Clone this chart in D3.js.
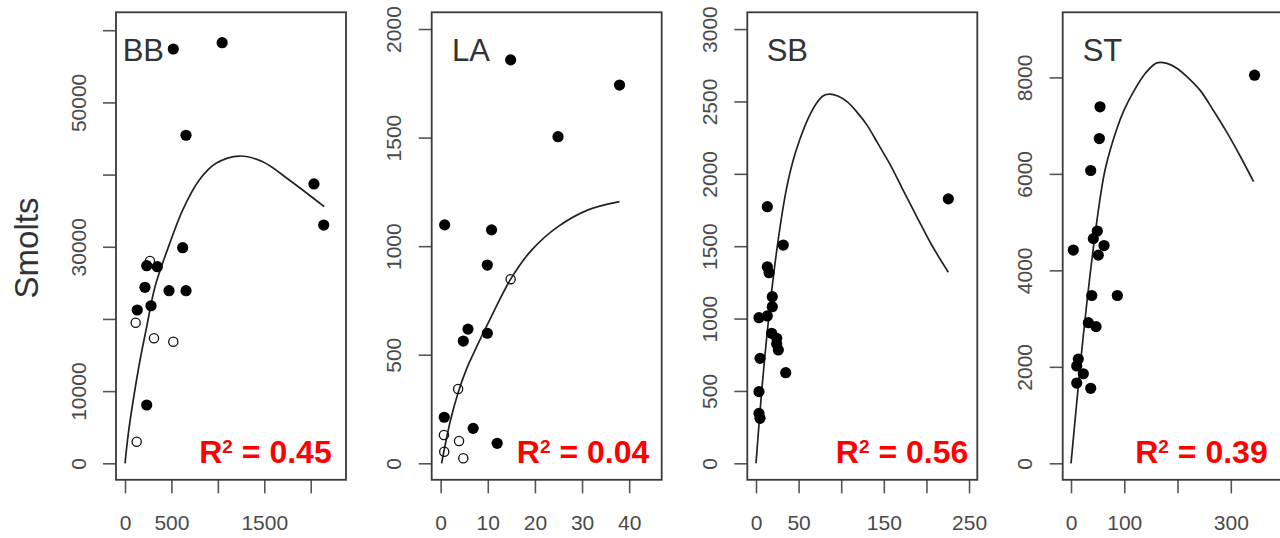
<!DOCTYPE html>
<html>
<head>
<meta charset="utf-8">
<script src="https://cdn.jsdelivr.net/npm/d3@7"></script>
<style>
  body { margin: 0; background: #fff; }
  svg { display: block; }
</style>
</head>
<body>
<svg id="chart" width="1280" height="538"></svg>
<script>
// ---- data ----
const panelNames = ['BB', 'LA', 'SB', 'ST'];
const rSquared = ['0.45', '0.04', '0.56', '0.39'];

// [spawners, smolts]
const bbFilled = [[520, 57400], [1046, 58270], [657, 45450], [2035, 38700], [2140, 33010], [621, 29870],
  [234, 27375], [348, 27240], [215, 24380], [474, 23910], [657, 23910], [280, 21830], [132, 21240], [234, 8080]];
const bbOpen = [[269, 28030], [115, 19480], [312, 17320], [520, 16850], [126, 2990]];
const bbCurve = [[0, 0], [36, 4160], [89, 8770], [162, 14310], [234, 18930], [323, 24470], [495, 30940],
  [621, 35090], [800, 39250], [980, 41560], [1231, 42570], [1483, 41780], [1769, 39250], [2146, 35550]];

const laFilled = [[14.85, 1858], [37.95, 1742], [24.9, 1504], [0.85, 1098], [10.8, 1075], [9.9, 913],
  [5.8, 618], [4.8, 563], [9.9, 599], [0.76, 212], [6.9, 161], [12.0, 92]];
const laOpen = [[14.85, 848], [3.7, 342], [0.7, 130], [3.9, 103], [0.76, 53], [4.8, 23]];
const laCurve = [[0.2, 0], [2, 190], [3.7, 325], [5.5, 435], [7.6, 535], [10.85, 680], [14.85, 848],
  [19.3, 982], [24.9, 1090], [31.3, 1167], [37.95, 1205]];

const sbFilled = [[13.3, 1773], [225.7, 1827], [32.0, 1508], [13.3, 1358], [15.3, 1317], [19.1, 1151],
  [19.1, 1082], [13.3, 1018], [3.5, 1006], [18.4, 898], [24.3, 864], [24.3, 824], [26.2, 783],
  [4.7, 725], [34.9, 626], [3.5, 495], [3.5, 345], [4.7, 311]];
const sbOpen = [];
const sbCurve = [[0, 0], [6.7, 500], [12, 835], [18.4, 1190], [26.2, 1550], [34.9, 1870], [43, 2080],
  [51.6, 2240], [61, 2380], [71.2, 2490], [79, 2540], [86.9, 2551], [96, 2538], [106.5, 2500],
  [118, 2430], [129.9, 2340], [143, 2210], [157.3, 2065], [172, 1895], [188.6, 1705], [206, 1510],
  [225.7, 1320]];

const stFilled = [[344.6, 8045], [54.5, 7390], [53.2, 6732], [37.0, 6070], [4.3, 4420], [49.4, 4815],
  [41.9, 4658], [62.0, 4514], [51.3, 4315], [38.9, 3478], [87.0, 3478], [32.5, 2915], [47.0, 2833],
  [13.7, 2160], [10.7, 2017], [23.1, 1856], [10.7, 1663], [37.0, 1555]];
const stOpen = [];
const stCurve = [[0, 0], [13.7, 1600], [23.1, 2650], [35.7, 3900], [48.3, 5000], [63.9, 6080],
  [85.9, 6930], [100, 7330], [117.1, 7700], [140, 8090], [161.1, 8300], [180, 8290], [198.7, 8190],
  [220, 7990], [242.5, 7730], [267, 7320], [292.7, 6860], [318, 6360], [342.7, 5840]];

const xTicks = [[0, 500, 1000, 1500, 2000], [0, 10, 20, 30, 40], [0, 50, 100, 150, 200, 250], [0, 100, 200, 300]];
const xTickLabels = [[0, 500, 1500], [0, 10, 20, 30, 40], [0, 50, 150, 250], [0, 100, 300]];
const yTicks = [[0, 10000, 20000, 30000, 40000, 50000, 60000], [0, 500, 1000, 1500, 2000],
  [0, 500, 1000, 1500, 2000, 2500, 3000], [0, 2000, 4000, 6000, 8000]];
const yTickLabels = [[0, 10000, 30000, 50000], [0, 500, 1000, 1500, 2000],
  [0, 500, 1000, 1500, 2000, 2500, 3000], [0, 2000, 4000, 6000, 8000]];
const xLimits = [[-97, 2380], [-1.9, 46.9], [-10.2, 259.7], [-15.6, 416.2]];
const yLimits = [[-2286, 62483], [-76, 2077], [-114, 3116], [-342, 9349]];

const filledSets = [bbFilled, laFilled, sbFilled, stFilled];
const openSets = [bbOpen, laOpen, sbOpen, stOpen];
const curveSets = [bbCurve, laCurve, sbCurve, stCurve];

// ---- layout ----
const boxTop = 12.3, boxBottom = 479.8, boxWidth = 230;
const boxLefts = [116, 431.7, 747.3, 1062.7];
const nameOffsets = [6.7, 20.3, 19.4, 20];
const rsqRight = [331.7, 649.3, 968.3, 1267.7];
const font = '"Liberation Sans", Arial, sans-serif';

const svg = d3.select('#chart');
svg.append('rect').attr('width', 1280).attr('height', 538).attr('fill', '#fff');

svg.append('text')
    .attr('transform', 'translate(38,248) rotate(-90)')
    .attr('text-anchor', 'middle')
    .attr('font-family', font)
    .attr('font-size', 33)
    .attr('fill', '#333')
    .text('Smolts');

panelNames.forEach((name, i) => {
    const left = boxLefts[i];
    const x = d3.scaleLinear().domain(xLimits[i]).range([left, left + boxWidth]);
    const y = d3.scaleLinear().domain(yLimits[i]).range([boxBottom, boxTop]);
    const g = svg.append('g');

    const xAxis = g.append('g')
        .attr('transform', `translate(0,${boxBottom})`)
        .call(d3.axisBottom(x)
            .tickValues(xTicks[i])
            .tickSize(13.5)
            .tickSizeOuter(0)
            .tickFormat(d => xTickLabels[i].includes(d) ? d : ''));
    xAxis.select('.domain').remove();
    xAxis.attr('font-family', font).attr('font-size', 21);
    xAxis.selectAll('line').attr('stroke', '#555').attr('stroke-width', 1.6);
    xAxis.selectAll('text').attr('y', 50.3).attr('dy', null).attr('fill', '#4a4a4a');

    const yAxis = g.append('g')
        .attr('transform', `translate(${left},0)`)
        .call(d3.axisLeft(y)
            .tickValues(yTicks[i])
            .tickSize(13)
            .tickSizeOuter(0)
            .tickFormat(d => yTickLabels[i].includes(d) ? d : ''));
    yAxis.select('.domain').remove();
    yAxis.attr('font-family', font).attr('font-size', 21);
    yAxis.selectAll('line').attr('stroke', '#555').attr('stroke-width', 1.6);
    yAxis.selectAll('text')
        .attr('transform', 'rotate(-90)')
        .attr('text-anchor', 'middle')
        .attr('x', 0)
        .attr('y', -30.5)
        .attr('dy', null)
        .attr('fill', '#4a4a4a');

    g.append('rect')
        .attr('x', left).attr('y', boxTop)
        .attr('width', boxWidth).attr('height', boxBottom - boxTop)
        .attr('fill', 'none')
        .attr('stroke', '#3a3a3a')
        .attr('stroke-width', 1.8);

    const line = d3.line()
        .x(d => x(d[0]))
        .y(d => y(d[1]))
        .curve(d3.curveCatmullRom.alpha(0.5));
    g.append('path')
        .datum(curveSets[i])
        .attr('d', line)
        .attr('fill', 'none')
        .attr('stroke', '#222')
        .attr('stroke-width', 1.7);

    g.selectAll('circle.filled')
        .data(filledSets[i])
        .enter().append('circle')
        .attr('class', 'filled')
        .attr('cx', d => x(d[0]))
        .attr('cy', d => y(d[1]))
        .attr('r', 5.6)
        .attr('fill', '#000');

    g.selectAll('circle.open')
        .data(openSets[i])
        .enter().append('circle')
        .attr('class', 'open')
        .attr('cx', d => x(d[0]))
        .attr('cy', d => y(d[1]))
        .attr('r', 4.6)
        .attr('fill', 'none')
        .attr('stroke', '#111')
        .attr('stroke-width', 1.3);

    g.append('text')
        .attr('x', left + nameOffsets[i])
        .attr('y', 60.8)
        .attr('font-family', font)
        .attr('font-size', 31)
        .attr('fill', '#333')
        .text(name);

    const rt = g.append('text')
        .attr('x', rsqRight[i])
        .attr('y', 463.3)
        .attr('text-anchor', 'end')
        .attr('font-family', font)
        .attr('font-weight', 'bold')
        .attr('font-size', 32)
        .attr('fill', '#ff0000');
    rt.append('tspan').text('R');
    rt.append('tspan').attr('font-size', 19).attr('dy', -10).text('2');
    rt.append('tspan').attr('dy', 10).text(' = ' + rSquared[i]);
});
</script>
</body>
</html>
